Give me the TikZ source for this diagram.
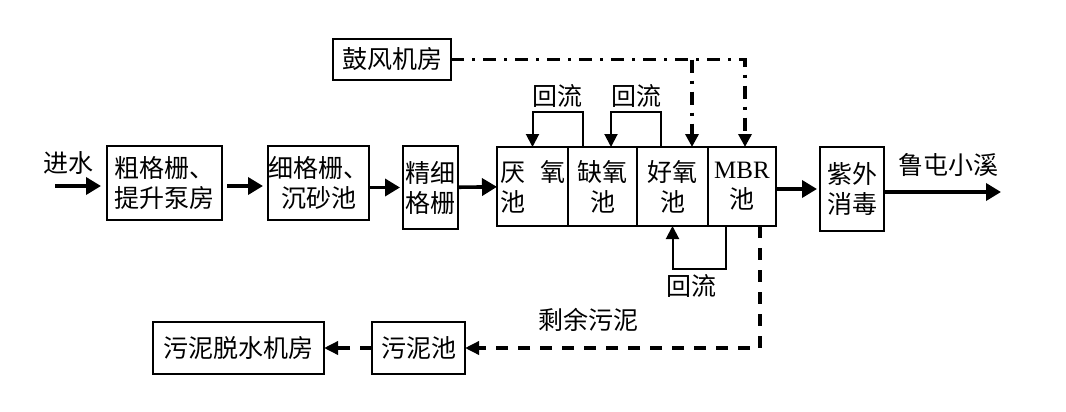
\documentclass[tikz,border=0pt]{standalone}
\usepackage{fontspec}
\setmainfont{Noto Sans CJK SC}
\newfontfamily\latinfont{Liberation Serif}
\usetikzlibrary{positioning,arrows.meta,calc}

\begin{document}
\begin{tikzpicture}[
  x=0.5pt, y=-0.5pt,
  font=\fontsize{12.5}{15}\selectfont,
  n/.style={draw, line width=0.9pt, align=center, inner sep=0pt, outer sep=0pt},
  tank/.style={n, minimum height=39.5pt},
  lbl/.style={inner sep=2pt},
  flow/.style={-{Triangle[length=7.5pt,width=8.5pt]}, line width=1.8pt},
  ret/.style={-{Triangle[length=6.5pt,width=6.5pt]}, line width=1pt},
  air/.style={-{Triangle[length=6.5pt,width=6.5pt]}, line width=1.9pt,
              dash pattern=on 6.5pt off 4pt on 1.5pt off 4pt},
  mud/.style={-{Triangle[length=7pt,width=6.5pt]}, line width=1.7pt,
              dash pattern=on 6pt off 5pt}
]
  \useasboundingbox (0,0) rectangle (1066,412);

  % --- pretreatment
  \node[n, minimum width=57.5pt, minimum height=37pt] (b1) at (164.5,183) {粗格栅、\\提升泵房};
  \node[n, minimum width=50.5pt, minimum height=37pt] (b2) at (318.5,183) {细格栅、\\沉砂池};
  \node[n, minimum width=27.5pt, minimum height=41.5pt] (b3) at (430.5,187.5) {精细\\格栅};

  % --- biological tanks
  \node[tank, minimum width=35.5pt, text width=32.5pt, align=left] (t1) at (532.5,186.5) {厌\hfill 氧\\池};
  \node[tank, minimum width=34.5pt, right=0pt of t1] (t2) {缺氧\\池};
  \node[tank, minimum width=35.5pt, right=0pt of t2] (t3) {好氧\\池};
  \node[tank, minimum width=34pt, right=0pt of t3] (t4) {{\latinfont MBR}\\池};

  \node[n, minimum width=32pt, minimum height=42pt] (uv) at (852,189) {紫外\\消毒};
  \node[n, minimum width=59pt, minimum height=20.5pt] (blow) at (392,59.5) {鼓风机房};
  \node[n, minimum width=46.5pt, minimum height=26pt] (pool) at (418.5,348) {污泥池};
  \node[n, minimum width=85.5pt, minimum height=26pt] (dew) at (238.5,348) {污泥脱水机房};

  \node (inl) at (68,163) {进水};
  \node (outl) at (948,165) {鲁屯小溪};
  \coordinate (in) at (55,186);
  \coordinate (out) at (1001,192);

  % --- water line
  \draw[flow, shorten >=3pt] (in) -- (b1.west |- in);
  \draw[flow, shorten <=2.5pt, shorten >=2.5pt] ([yshift=-1.5pt]b1.east) -- ([yshift=-1.5pt]b2.west);
  \draw[flow, shorten >=1.5pt] (b2.east |- b3) -- (b3.west);
  \draw[flow] (b3) -- (t1);
  \draw[flow, shorten >=1.5pt] (t4.east |- uv) -- (uv.west);
  \draw[flow] (uv.east |- out) -- (out);

  % --- recycle
  \draw[ret] ([xshift=7.5pt]t2.north west) -- ++(0,-35) -| node[pos=0.25, above, lbl] (r1) {回流} (t1.north);
  \draw[ret] ([xshift=12pt]t3.north west) -- ++(0,-35) -| node[pos=0.25, above, lbl] (r2) {回流} ([xshift=21.5pt]t2.north west);
  \draw[ret] ([xshift=9pt]t4.south west) -- ++(0,43) -| node[pos=0.32, below, lbl] (r3) {回流} (t3.south);

  % --- air
  \coordinate (j) at ([xshift=27.5pt]t3.north west);
  \draw[air] (blow.east) -| ([xshift=18.5pt]t4.north west);
  \draw[air] (j |- blow.east) -- (j);

  % --- sludge
  \coordinate (m) at ([xshift=26pt]t4.south west);
  \draw[mud] (m) |- node[pos=0.79, above=4pt] (ml) {剩余污泥} (pool.east);
  \draw[mud] (pool) -- (dew);
\end{tikzpicture}
\end{document}
